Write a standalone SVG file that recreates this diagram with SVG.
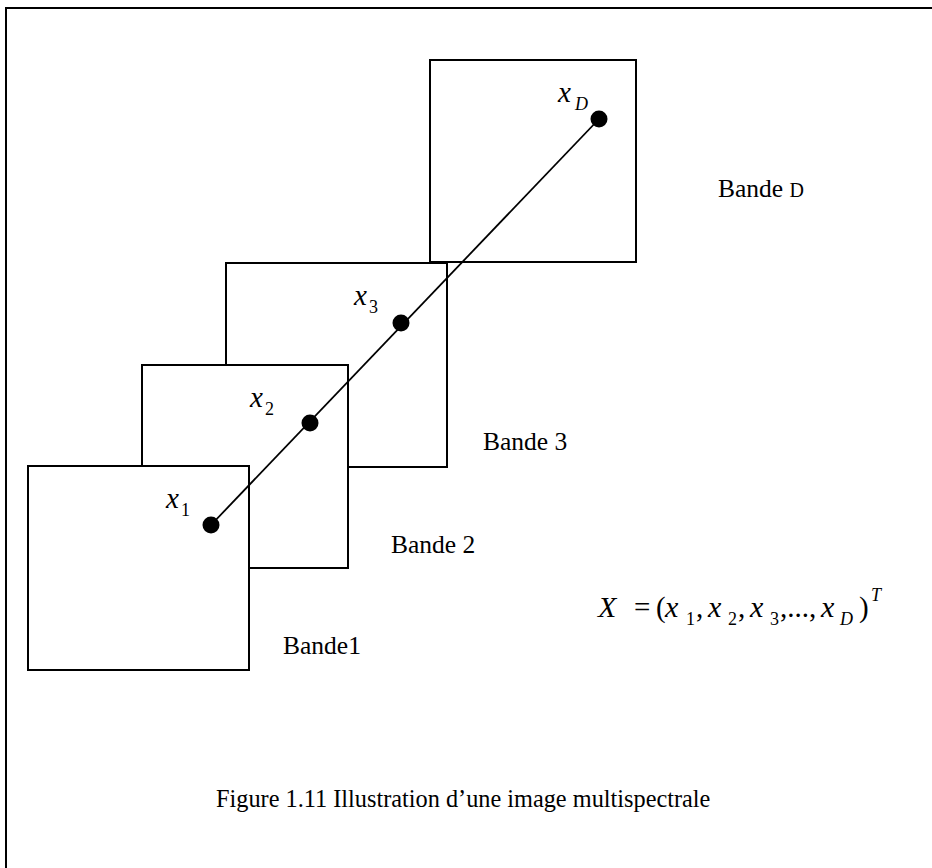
<svg xmlns="http://www.w3.org/2000/svg" width="932" height="868" viewBox="0 0 932 868">
  <style>
    .band { fill: #ffffff; stroke: #000000; stroke-width: 2; }
    .frame { fill: none; stroke: #000000; stroke-width: 2; }
    .txt { font-family: "Liberation Serif", "Times New Roman", serif; fill: #000000; }
    .lbl { font-size: 25.5px; }
    .var { font-style: italic; font-size: 29px; }
    .sub { font-size: 18px; }
    .subi { font-size: 18px; font-style: italic; }
    .fx { font-style: italic; font-size: 30px; }
    .op { font-size: 29px; }
    .pt { fill: #000000; }
  </style>

  <!-- page frame (continues past the right and bottom edges) -->
  <rect class="frame" x="6" y="8" width="940" height="880"/>

  <!-- spectral bands, back to front -->
  <g id="band-d">
    <rect class="band" x="430" y="60" width="206" height="202"/>
  </g>
  <g id="band-3">
    <rect class="band" x="226" y="263" width="221" height="204"/>
  </g>
  <g id="band-2">
    <rect class="band" x="142" y="365" width="206" height="203"/>
  </g>
  <g id="band-1">
    <rect class="band" x="28" y="466" width="221" height="204"/>
  </g>

  <!-- pixel vector line across the bands -->
  <g id="connectors">
    <line x1="211" y1="525" x2="599" y2="119" stroke="#000" stroke-width="1.8"/>
  </g>

  <!-- pixel samples -->
  <g id="point-x1"><circle class="pt" cx="211" cy="525" r="8.5"/></g>
  <g id="point-x2"><circle class="pt" cx="310" cy="423" r="8.5"/></g>
  <g id="point-x3"><circle class="pt" cx="401" cy="323" r="8.5"/></g>
  <g id="point-xd"><circle class="pt" cx="599" cy="119" r="8.5"/></g>

  <!-- sample labels -->
  <g id="label-x1" class="txt">
    <text class="var" x="166" y="508">x</text>
    <text class="sub" x="181" y="516">1</text>
  </g>
  <g id="label-x2" class="txt">
    <text class="var" x="250" y="407">x</text>
    <text class="sub" x="265" y="415">2</text>
  </g>
  <g id="label-x3" class="txt">
    <text class="var" x="354" y="305">x</text>
    <text class="sub" x="369" y="313">3</text>
  </g>
  <g id="label-xd" class="txt">
    <text class="var" x="558" y="102">x</text>
    <text class="subi" x="575" y="110">D</text>
  </g>

  <!-- band names -->
  <g id="name-band-d" class="txt">
    <text class="lbl" x="718" y="197">Bande <tspan font-size="20">D</tspan></text>
  </g>
  <g id="name-band-3" class="txt"><text class="lbl" x="483" y="450">Bande 3</text></g>
  <g id="name-band-2" class="txt"><text class="lbl" x="391" y="553">Bande 2</text></g>
  <g id="name-band-1" class="txt"><text class="lbl" x="283" y="654">Bande1</text></g>

  <!-- vector definition -->
  <g id="formula" class="txt">
    <text class="fx" x="598" y="617">X</text>
    <text class="op" x="634" y="617">=</text>
    <text class="op" x="656" y="617">(</text>
    <text class="fx" x="665" y="617">x</text>
    <text class="sub" x="686" y="625">1</text>
    <text class="op" x="696" y="617">,</text>
    <text class="fx" x="708" y="617">x</text>
    <text class="sub" x="728" y="625">2</text>
    <text class="op" x="738" y="617">,</text>
    <text class="fx" x="750" y="617">x</text>
    <text class="sub" x="770" y="625">3</text>
    <text class="op" x="780" y="617">,...,</text>
    <text class="fx" x="821" y="617">x</text>
    <text class="subi" x="840" y="625">D</text>
    <text class="op" x="859" y="617">)</text>
    <text class="subi" x="871" y="601">T</text>
  </g>

  <!-- caption -->
  <g id="caption" class="txt">
    <text font-size="24.3" x="216" y="807">Figure 1.11 Illustration d’une image multispectrale</text>
  </g>
</svg>
